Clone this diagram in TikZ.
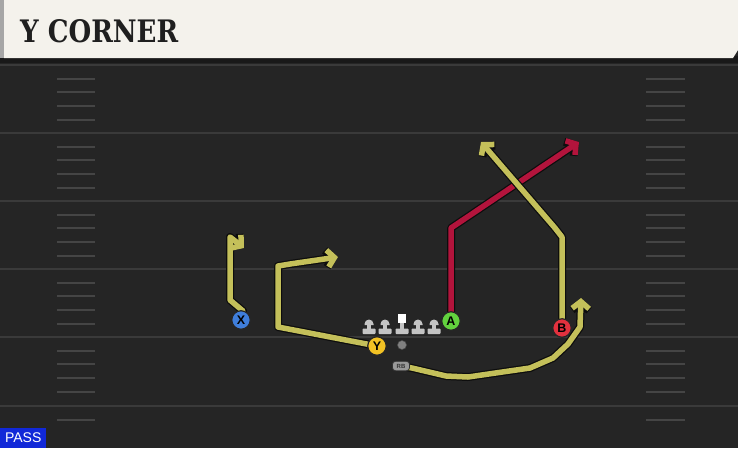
\documentclass[tikz,border=0pt]{standalone}
\usepackage{fontspec}
\usetikzlibrary{arrows.meta}
\newfontfamily\headfont{DejaVu Serif}
\newfontfamily\labfont{Liberation Sans}
\definecolor{fieldbg}{HTML}{252525}
\definecolor{yardline}{HTML}{3A3A3A}
\definecolor{hashc}{HTML}{454545}
\definecolor{cream}{HTML}{F4F2EC}
\definecolor{routey}{HTML}{C4C05A}
\definecolor{router}{HTML}{B3143C}
\definecolor{px}{HTML}{3F7EDB}
\definecolor{py}{HTML}{F2C224}
\definecolor{pa}{HTML}{62D13E}
\definecolor{pb}{HTML}{E2313E}
\definecolor{olgray}{HTML}{C4C4C4}
\definecolor{passblue}{HTML}{1128D8}
\pgfdeclarelayer{bg}
\pgfdeclarelayer{routes}
\pgfsetlayers{bg,routes,main}
\tikzset{
  player/.style={circle, draw=black!85, line width=1.2pt, fill=#1, minimum size=18.5pt, inner sep=0pt, font=\labfont\bfseries\fontsize{12.5}{12.5}\selectfont},
  route/.style={draw=#1, line width=5.5pt, line join=round, -{Straight Barb[length=7pt,width=17pt]},
     preaction={draw=black!95, line width=8pt, line join=round, -{Straight Barb[length=7pt,width=17pt]}}},
  hash/.style={draw=hashc, line width=1.2pt},
  yard/.style={draw=yardline, line width=1.5pt},
  lineman/.pic={
    \fill[olgray] (-4.5,324) arc[start angle=180, end angle=360, radius=4.5] -- (4.5,325) -- (-4.5,325) -- cycle;
    \fill[olgray] (-2.2,324) rectangle (2.2,329);
    \fill[olgray, rounded corners=0.8pt] (-6.5,328.5) rectangle (6.5,334);
  },
}
\begin{document}
\begin{tikzpicture}[x=1pt,y=-1pt]
\useasboundingbox (0,0) rectangle (738,448);
\begin{pgfonlayer}{bg}
% field
\fill[fieldbg] (0,0) rectangle (738,448);
\fill[black!90] (0,56) rectangle (738,63);
% yard lines
\foreach \y in {65,133,201,269,337,406} {\draw[yard] (0,\y) -- (738,\y);}
% hash marks
\foreach \y in {65,133,201,269,337} {
  \foreach \o in {14,27,41,55} {
    \draw[hash] (57,\y+\o) -- (95,\y+\o);
    \draw[hash] (646,\y+\o) -- (685,\y+\o);
  }
}
\draw[hash] (57,420) -- (95,420);
\draw[hash] (646,420) -- (685,420);
% header
\fill[cream] (4,0) -- (738,0) -- (738,50) -- (733,58) -- (4,58) -- cycle;
\fill[black!35] (0,0) rectangle (4,58);
\end{pgfonlayer}
\node[anchor=south west, inner sep=0pt, text=black!88] (title) at (20,43) {\resizebox{158pt}{23pt}{\headfont\bfseries Y CORNER}};
% PASS label
\node[fill=passblue, minimum width=46pt, minimum height=20pt, inner sep=0pt, text=white, font=\labfont\fontsize{14}{14}\selectfont, anchor=south west] (pass) at (0,448) {PASS};
% linemen
\foreach \x in {369,385,418,434} { \pic at (\x,0) {lineman}; }
\fill[olgray] (400,322) rectangle (404,329);
\fill[white] (398,314) rectangle (406,323);
\fill[olgray, rounded corners=0.8pt] (395.5,328.5) rectangle (408.5,334);
% ball
\node[circle, fill=black!50, draw=black!70, line width=0.5pt, minimum size=9pt, inner sep=0pt] (ball) at (402,345) {};
% players
\node[player=px] (X) at (241,320) {X};
\node[player=py] (Y) at (377,346) {Y};
\node[player=pa] (A) at (451,321) {A};
\node[player=pb] (B) at (562,328) {B};
\node[draw=black!80, line width=0.8pt, fill=black!40, rounded corners=3pt, minimum width=17pt, minimum height=9.5pt, inner sep=0pt, font=\labfont\bfseries\fontsize{6}{6}\selectfont, text=black!80] (RB) at (401,366) {RB};
% routes
\coordinate (xe) at (244,248);
\coordinate (ye) at (338,257);
\coordinate (ae) at (579,142);
\coordinate (be) at (481,142);
\coordinate (re) at (581,298);
\begin{pgfonlayer}{routes}
\draw[route=routey] (X.center) -- (243,311) -- (230,300) -- (230,237) -- (xe);
\draw[route=routey] (Y.center) -- (278,327) -- (278,266) -- (290,264) -- (ye);
\draw[route=router] (A.center) -- (451,228) -- (ae);
\draw[route=routey] (B.center) -- (562,237) -- (555,228) -- (be);
\draw[route=routey] (RB.center) -- (412,368) -- (446,376) -- (468,377) -- (530,368) -- (553,358) -- (568,344) -- (580,327) -- (re);
\end{pgfonlayer}
\end{tikzpicture}
\end{document}
